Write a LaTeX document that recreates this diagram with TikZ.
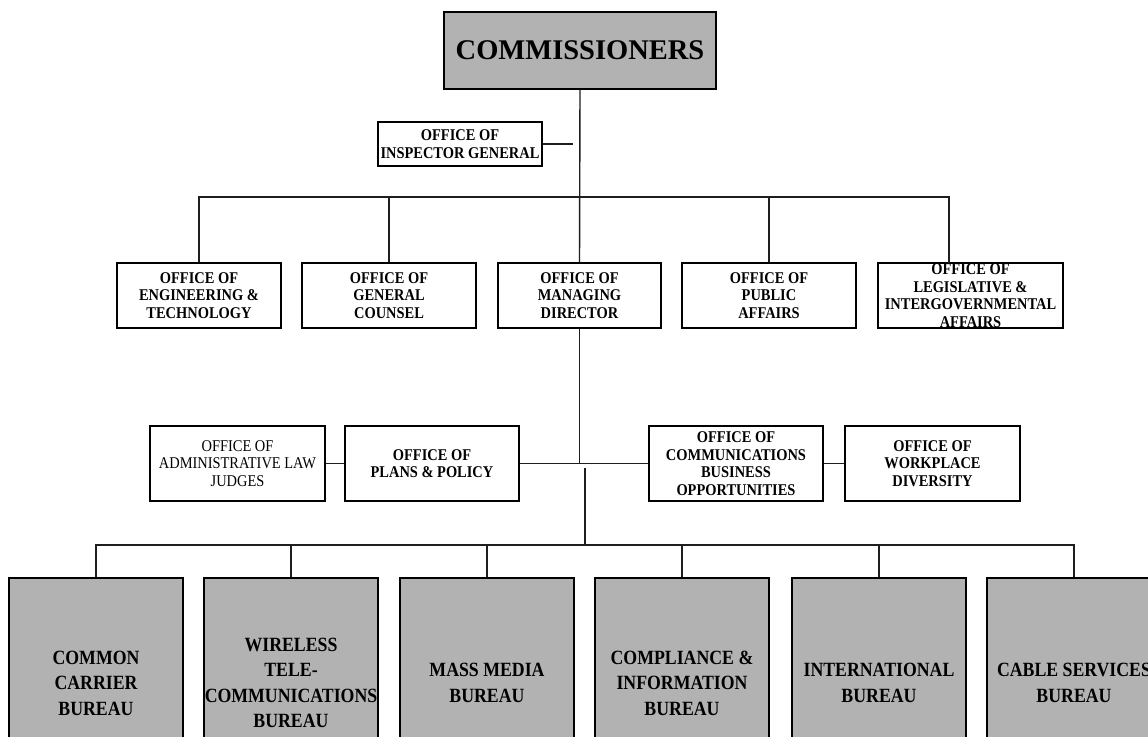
\documentclass[tikz,border=0pt]{standalone}
\usepackage{fontspec}
\setmainfont{Liberation Serif}
\newfontfamily\tallserif[FakeStretch=0.88]{Liberation Serif}
\definecolor{bgray}{RGB}{178,178,178}
\definecolor{lgray}{RGB}{30,30,30}
\tikzset{
  office/.style={draw=black, line width=1.3pt, fill=white, inner sep=0pt, align=center,
    font=\tallserif\bfseries\fontsize{16.4}{17.6}\selectfont},
  officeplain/.style={office, font=\tallserif\fontsize{16.4}{17.6}\selectfont},
  bureau/.style={draw=black, line width=1.3pt, fill=bgray, inner sep=0pt, align=center,
    minimum width=174pt, minimum height=210pt,
    font=\tallserif\bfseries\fontsize{20.2}{25.5}\selectfont},
  link/.style={draw=lgray, line width=1.4pt}
}
\begin{document}
\begin{tikzpicture}[x=1pt,y=-1pt]
\useasboundingbox (0,0) rectangle (1148,736);
\clip (0,0) rectangle (1148,736);
\fill[white] (0,0) rectangle (1148,736);

% top
\node[draw=black, line width=1.3pt, fill=bgray, inner sep=0pt, minimum width=272pt, minimum height=77pt,
  font=\bfseries\fontsize{28.5}{30}\selectfont] (comm) at (580,50.5) {COMMISSIONERS};
\node[office, minimum width=164pt, minimum height=44pt] (oig) at (460,144) {OFFICE OF\\INSPECTOR GENERAL};

% row 2
\node[office, minimum width=164pt, minimum height=65pt] (eng) at (199,295.5) {OFFICE OF\\ENGINEERING \&\\TECHNOLOGY};
\node[office, minimum width=174pt, minimum height=65pt] (gc) at (389,295.5) {OFFICE OF\\GENERAL\\COUNSEL};
\node[office, minimum width=163pt, minimum height=65pt] (md) at (579.5,295.5) {OFFICE OF\\MANAGING\\DIRECTOR};
\node[office, minimum width=174pt, minimum height=65pt] (pa) at (769,295.5) {OFFICE OF\\PUBLIC\\AFFAIRS};
\node[office, minimum width=185pt, minimum height=65pt, text depth=0pt] (leg) at (970.5,295.5) {OFFICE OF\\LEGISLATIVE \&\\INTERGOVERNMENTAL\\AFFAIRS};
\coordinate (legtop) at (949,263);

% row 3
\node[officeplain, minimum width=175pt, minimum height=75pt] (alj) at (237.5,463.5) {OFFICE OF\\ADMINISTRATIVE LAW\\JUDGES};
\node[office, minimum width=174pt, minimum height=75pt] (pp) at (432,463.5) {OFFICE OF\\PLANS \& POLICY};
\node[office, minimum width=174pt, minimum height=75pt] (cbo) at (736,463.5) {OFFICE OF\\COMMUNICATIONS\\BUSINESS\\OPPORTUNITIES};
\node[office, minimum width=175pt, minimum height=75pt] (wd) at (932.5,463.5) {OFFICE OF\\WORKPLACE\\DIVERSITY};

% bureaus
\node[bureau] (b1) at (96,683) {COMMON\\CARRIER\\BUREAU};
\node[bureau] (b2) at (291,683) {WIRELESS\\TELE-\\COMMUNICATIONS\\BUREAU};
\node[bureau] (b3) at (487,683) {MASS MEDIA\\BUREAU};
\node[bureau] (b4) at (682,683) {COMPLIANCE \&\\INFORMATION\\BUREAU};
\node[bureau] (b5) at (879,683) {INTERNATIONAL\\BUREAU};
\node[bureau] (b6) at (1074,683) {CABLE SERVICES\\BUREAU};

% bus coordinates
\coordinate (busA) at (0,197);
\coordinate (busB) at (0,545);
\coordinate (oigend) at (573,144);
\coordinate (split) at (585,468);

% connectors
\draw[link] (comm.south) -- (md.north);
\draw[link] (oig.east) -- (oigend);
\draw[link] (eng.north) |- (legtop |- busA) -- (legtop);
\draw[link] (gc.north) -- (gc.north |- busA);
\draw[link] (pa.north) -- (pa.north |- busA);
\draw[link] (md.south) -- (md.south |- pp.east);
\draw[link] (pp.east) -- (cbo.west);
\draw[link] (alj.east) -- (pp.west);
\draw[link] (cbo.east) -- (wd.west);
\draw[link] (split) -- (split |- busB);
\draw[link] (b1.north) |- (b6.north |- busB) -- (b6.north);
\draw[link] (b2.north) -- (b2.north |- busB);
\draw[link] (b3.north) -- (b3.north |- busB);
\draw[link] (b4.north) -- (b4.north |- busB);
\draw[link] (b5.north) -- (b5.north |- busB);
\end{tikzpicture}
\end{document}
